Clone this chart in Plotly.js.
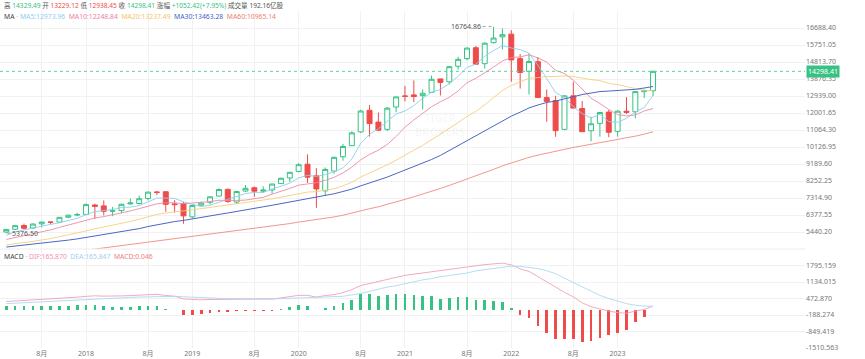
<!DOCTYPE html>
<html><head><meta charset="utf-8">
<script src="https://cdn.plot.ly/plotly-3.0.1.min.js"></script>
<style>html,body{margin:0;padding:0;background:#fff;}#chart{width:865px;height:359px;}</style>
</head><body><div id="chart"></div>
<script>
const months = ['2017-04','2017-05','2017-06','2017-07','2017-08','2017-09','2017-10','2017-11','2017-12',
'2018-01','2018-02','2018-03','2018-04','2018-05','2018-06','2018-07','2018-08','2018-09','2018-10','2018-11','2018-12',
'2019-01','2019-02','2019-03','2019-04','2019-05','2019-06','2019-07','2019-08','2019-09','2019-10','2019-11','2019-12',
'2020-01','2020-02','2020-03','2020-04','2020-05','2020-06','2020-07','2020-08','2020-09','2020-10','2020-11','2020-12',
'2021-01','2021-02','2021-03','2021-04','2021-05','2021-06','2021-07','2021-08','2021-09','2021-10','2021-11','2021-12',
'2022-01','2022-02','2022-03','2022-04','2022-05','2022-06','2022-07','2022-08','2022-09','2022-10','2022-11','2022-12',
'2023-01','2023-02','2023-03','2023-04','2023-05'];

const openP = [5440,5590,5795,5660,5890,5990,5985,6255,6380,
6410,6930,6880,6590,6620,6990,7010,7290,7640,7660,6990,7000,
6275,6920,7080,7420,7790,7090,7700,7880,7690,7760,8110,8420,
8780,9180,8540,7710,8800,9590,10200,10960,12150,11500,11100,12330,
12940,13000,12960,13140,13880,13720,14580,15000,15600,14720,15880,16200,
16350,15000,14300,14830,12850,12690,11100,12950,12250,11020,11430,12050,
10990,12100,12070,13180,13229.12];
const highP = [5600,5836,5900,5913,6000,6010,6260,6404,6500,
7022,7000,7187,6820,7010,7280,7450,7660,7700,7690,7200,7100,
6960,7120,7425,7845,7850,7710,8030,7950,7960,8100,8440,8750,
9240,9720,8960,9000,9600,10300,10990,12180,12440,12030,12330,12900,
13500,13800,13300,14060,13900,14600,15100,15600,15700,15900,16764.86,16660,
16573,15250,15290,15090,13300,12950,12980,13720,12660,11800,12050,12170,
12150,12880,13200,13300,14329.49];
const lowP = [5376.5,5560,5566,5620,5697,5860,5970,6200,6310,
6400,6165,6360,6310,6470,6950,6960,7180,7470,6560,6520,5895,
6190,6890,6960,7400,7050,6980,7640,7380,7600,7550,8100,8200,
8730,8150,6771,7450,8650,9370,10180,10900,10700,11000,11000,12040,
12640,12600,12200,13120,12970,13580,14400,14900,14680,14450,15830,15500,
13724,13350,13020,12830,11520,10690,11050,12260,10960,10440,10690,10670,
10700,11950,11700,12830,12938.45];
const closeP = [5583,5789,5647,5880,5989,5979,6249,6365,6396,
6949,6854,6581,6606,6967,7041,7276,7640,7628,6967,6949,6330,
6907,7032,7379,7782,7128,7671,7849,7692,7750,8084,8404,8733,
9151,8462,7814,8890,9556,10157,10906,12111,11418,11053,12268,12888,
12925,12909,13091,13861,13687,14555,14960,15583,14690,15850,16136,16320,
14930,14238,14838,12855,12643,11028,12948,12272,10971,11406,12030,10940,
12102,12042,13181,13246,14298.41];

const ma5 = [5256,5442,5558,5668,5778,5858,5950,6094,6198,6390,6564,6630,6678,6792,6810,6896,7108,7312,7312,7294,7104,
6958,6838,6920,7086,7246,7398,7562,7624,7618,7808,7954,8130,8422,8564,8510,8608,8774,8976,9466,10326,10832,11130,11552,11948,
12112,12410,12818,13136,13296,13620,14030,14528,14694,15126,15444,15716,15586,15496,15294,14636,13900,13120,12862,12348,11972,
11726,11926,11524,11490,11704,12058,12302,12973.96];
const ma10 = [5027,5133,5221,5321,5440,5557,5696,5826,5933,6084,6211,6290,6386,6495,6600,6730,6869,6995,7052,7052,7000,
7033,7075,7116,7190,7175,7178,7200,7272,7352,7527,7676,7846,8023,8091,8159,8281,8452,8699,9015,9418,9720,9952,10264,10707,
11219,11621,11974,12344,12622,12866,13220,13673,13915,14211,14532,14873,15057,15095,15210,15040,14808,14353,14179,13821,13304,
12813,12523,12193,11919,11838,11892,12114,12248.84];
const ma20 = [4730,4810,4860,4921,4991,5076,5179,5273,5376,5498,5619,5712,5804,5908,6020,6144,6283,6411,6493,6568,6606,
6662,6731,6806,6895,6953,7024,7098,7162,7202,7264,7355,7461,7570,7641,7667,7730,7826,7986,8184,8473,8698,8899,9144,9399,
9689,9951,10213,10522,10819,11142,11470,11813,12090,12459,12876,13247,13516,13720,13916,13953,14014,14013,14047,14016,13918,
13843,13790,13644,13565,13439,13350,13234,13237.49];
const ma30 = [4611,4660,4707,4764,4816,4871,4931,4993,5060,5137,5223,5303,5369,5446,5527,5627,5742,5847,5935,6016,6079,
6152,6227,6311,6410,6487,6581,6674,6752,6829,6913,7000,7102,7211,7294,7355,7443,7549,7674,7806,7982,8143,8291,8468,8663,
8851,9027,9209,9438,9663,9937,10205,10490,10734,11003,11303,11592,11828,12046,12282,12441,12583,12659,12786,12913,13018,
13102,13185,13211,13250,13248,13307,13380,13463.28];
const ma60 = [3911,3965,4016,4070,4123,4176,4236,4298,4360,4430,4499,4562,4625,4691,4760,4830,4906,4980,5040,5097,5143,
5200,5255,5318,5389,5445,5509,5575,5635,5697,5762,5830,5905,5988,6055,6113,6187,6271,6367,6472,6603,6723,6830,6957,7095,
7239,7384,7528,7687,7839,8008,8179,8359,8522,8707,8895,9086,9251,9399,9556,9677,9791,9881,9999,10103,10187,
10273,10367,10443,10528,10615,10725,10836,10965.14];

const dif = [352,372,392,412,432,446,472,492,526,560,580,567,560,578,590,610,630,643,593,565,455,
433,420,434,443,427,441,445,450,451,451,498,548,600,600,530,590,630,710,830,990,1080,1140,1230,1320,
1400,1450,1500,1550,1580,1640,1700,1760,1780,1830,1860,1890,1820,1660,1560,1350,1130,900,720,540,300,
140,50,-30,-90,-120,-30,33,165.870];
const dea = [266,286,306,326,346,366,386,406,426,447,467,481,494,505,517,530,544,557,560,560,542,
520,500,488,477,467,461,459,457,458,458,465,482,500,520,525,537,550,563,617,670,760,860,930,987,
1067,1150,1220,1270,1347,1393,1433,1493,1580,1630,1673,1723,1767,1760,1707,1670,1584,1467,1287,1107,934,
754,597,470,364,267,204,167,165.847];
const macdHist = [173,173,173,173,173,160,173,173,200,227,227,173,133,147,147,160,173,173,67,10,-173,
-173,-160,-107,-67,-80,-40,-27,-13,-13,-13,67,133,200,160,10,107,160,293,427,640,640,560,600,667,
667,600,560,560,467,493,533,533,400,400,373,333,107,-200,-293,-640,-907,-1134,-1134,-1134,-1267,
-1227,-1094,-1000,-907,-774,-467,-267,0.046];

const tickMonths = ['2017-08','2018-01','2018-08','2019-01','2019-08','2020-01','2020-08','2021-01','2021-08','2022-01','2022-08','2023-01'];
const tickLabels = ['8月','2018','8月','2019','8月','2020','8月','2021','8月','2022','8月','2023'];
const priceTicks = [5440.20,6377.55,7314.90,8252.25,9189.60,10126.95,11064.30,12001.65,12939.00,13876.35,14813.70,15751.05,16688.40];
const macdTicks = [-1510.563,-849.419,-188.274,472.870,1134.015,1795.159];

const GREEN = '#35c283', RED = '#f04b4b';
const FONT = 'Noto Sans, Noto Sans CJK SC, sans-serif';
const H = 348;             // plot area height in px
const W = 805;             // plot area width in px
const py = v => (H - v) / H;

const traces = [
  {type:'candlestick', x:months, open:openP, high:highP, low:lowP, close:closeP, xaxis:'x', yaxis:'y',
   increasing:{line:{color:GREEN,width:1}, fillcolor:'#ffffff'},
   decreasing:{line:{color:RED,width:1}, fillcolor:RED},
   whiskerwidth:0, hoverinfo:'skip'},
  {type:'scatter', mode:'lines', x:months, y:ma5, line:{color:'#8ccfee',width:0.9}, yaxis:'y', hoverinfo:'skip'},
  {type:'scatter', mode:'lines', x:months, y:ma10, line:{color:'#ec8aa6',width:0.9}, yaxis:'y', hoverinfo:'skip'},
  {type:'scatter', mode:'lines', x:months, y:ma20, line:{color:'#f4cf7e',width:0.9}, yaxis:'y', hoverinfo:'skip'},
  {type:'scatter', mode:'lines', x:months, y:ma30, line:{color:'#4a66c8',width:1}, yaxis:'y', hoverinfo:'skip'},
  {type:'scatter', mode:'lines', x:months, y:ma60, line:{color:'#f08a7e',width:0.9}, yaxis:'y', hoverinfo:'skip'},
  {type:'bar', x:months, y:macdHist, width:0.3, yaxis:'y2',
   marker:{color:macdHist.map(v => v >= 0 ? GREEN : RED), line:{width:0}}, hoverinfo:'skip'},
  {type:'scatter', mode:'lines', x:months, y:dif, line:{color:'#f0a0b8',width:0.9}, yaxis:'y2', hoverinfo:'skip'},
  {type:'scatter', mode:'lines', x:months, y:dea, line:{color:'#acd8f2',width:0.9}, yaxis:'y2', hoverinfo:'skip'}
];

const sp = (c, t) => '<span style="color:' + c + '">' + t + '</span>';
const line1 = sp('#555','高 ') + sp(GREEN,'14329.49') + sp('#555',' 开 ') + sp(RED,'13229.12') + sp('#555',' 低 ') + sp(RED,'12938.45') +
  sp('#555',' 收 ') + sp(GREEN,'14298.41') + sp('#555',' 涨幅 ') + sp(GREEN,'+1052.42(+7.95%)') + sp('#555',' 成交量 192.16亿股');
const line2 = sp('#444','MA') + sp('#aaa',' · ') + sp('#8ccfee','MA5:12973.96') + '  ' + sp('#ec7f9e','MA10:12248.84') + '  ' +
  sp('#f2c46a','MA20:13237.49') + '  ' + sp('#3f5fc8','MA30:13463.28') + '  ' + sp('#ee7f6e','MA60:10965.14');
const line3 = sp('#444','MACD') + sp('#aaa',' · ') + sp('#f08fb0','DIF:165.870') + '  ' + sp('#9fd0ee','DEA:165.847') + '  ' + sp('#f08080','MACD:0.046');

const layout = {
  width:865, height:359, margin:{l:0, r:60, t:0, b:11},
  paper_bgcolor:'#ffffff', plot_bgcolor:'#ffffff', showlegend:false,
  font:{family:FONT, size:7, color:'#666'},
  bargap:0, boxgap:0.2,
  xaxis:{type:'category', anchor:'y2', range:[-0.71, 90.15], tickmode:'array', tickvals:tickMonths, ticktext:tickLabels,
    showgrid:true, gridcolor:'#f1f1f1', gridwidth:1, zeroline:false, showline:false, ticks:'',
    tickfont:{size:7, color:'#777'}, rangeslider:{visible:false}, fixedrange:true},
  yaxis:{domain:[py(249), py(11)], range:[4502.85, 17625.75], side:'right', anchor:'x', tickmode:'array',
    tickvals:priceTicks, ticktext:priceTicks.map(v => v.toFixed(2)), showgrid:true, gridcolor:'#f1f1f1',
    zeroline:false, showline:false, ticks:'', tickfont:{size:7, color:'#777'}},
  yaxis2:{domain:[0, py(249)], range:[-1510.563, 2456.30], side:'right', anchor:'x', tickmode:'array',
    tickvals:macdTicks, ticktext:macdTicks.map(v => v.toFixed(3)), showgrid:true, gridcolor:'#f1f1f1',
    zeroline:false, showline:false, ticks:'', tickfont:{size:7, color:'#777'}},
  shapes:[
    {type:'line', xref:'paper', x0:0, x1:1, yref:'y', y0:14298.41, y1:14298.41, line:{color:'#5fd0a0', width:1, dash:'dot'}},
    {type:'line', xref:'paper', x0:0, x1:1, yref:'paper', y0:py(249), y1:py(249), line:{color:'#ececec', width:1}},
    {type:'line', xref:'x', xsizemode:'pixel', xanchor:'2021-11', x0:-11, x1:-1, yref:'y', y0:16764.86, y1:16764.86,
     line:{color:'#888', width:0.8, dash:'dot'}},
    {type:'line', xref:'x', xsizemode:'pixel', xanchor:'2017-04', x0:1, x1:4, yref:'y', y0:5376.5, y1:5376.5,
     line:{color:'#888', width:0.8, dash:'dot'}}
  ],
  annotations:[
    {xref:'paper', yref:'paper', x:2/W, y:py(5.5), xanchor:'left', yanchor:'middle', showarrow:false, text:line1, font:{size:6.6}},
    {xref:'paper', yref:'paper', x:2/W, y:py(16), xanchor:'left', yanchor:'middle', showarrow:false, text:line2, font:{size:6.8}},
    {xref:'paper', yref:'paper', x:2/W, y:py(256.5), xanchor:'left', yanchor:'middle', showarrow:false, text:line3, font:{size:6.8}},
    {xref:'paper', yref:'y', x:1, y:14298.41, xanchor:'left', yanchor:'middle', showarrow:false, text:'14298.41',
     bgcolor:GREEN, font:{size:7, color:'#ffffff'}, borderpad:1, xshift:1},
    {xref:'x', yref:'y', x:'2021-11', y:16764.86, xanchor:'right', yanchor:'middle', xshift:-11, showarrow:false,
     text:'16764.86', font:{size:7, color:'#555'}},
    {xref:'x', yref:'y', x:'2017-04', y:5376.5, xanchor:'left', yanchor:'middle', xshift:4, showarrow:false,
     text:'5376.50', font:{size:7, color:'#555'}},
    {xref:'paper', yref:'paper', x:440/W, y:py(124), xanchor:'center', yanchor:'middle', showarrow:false,
     text:'<b>TIGER<br>BROKERS</b>', font:{size:11, color:'rgba(0,0,0,0.04)'}}
  ]
};

Plotly.newPlot('chart', traces, layout, {displayModeBar:false, staticPlot:true});
</script>
</body></html>
